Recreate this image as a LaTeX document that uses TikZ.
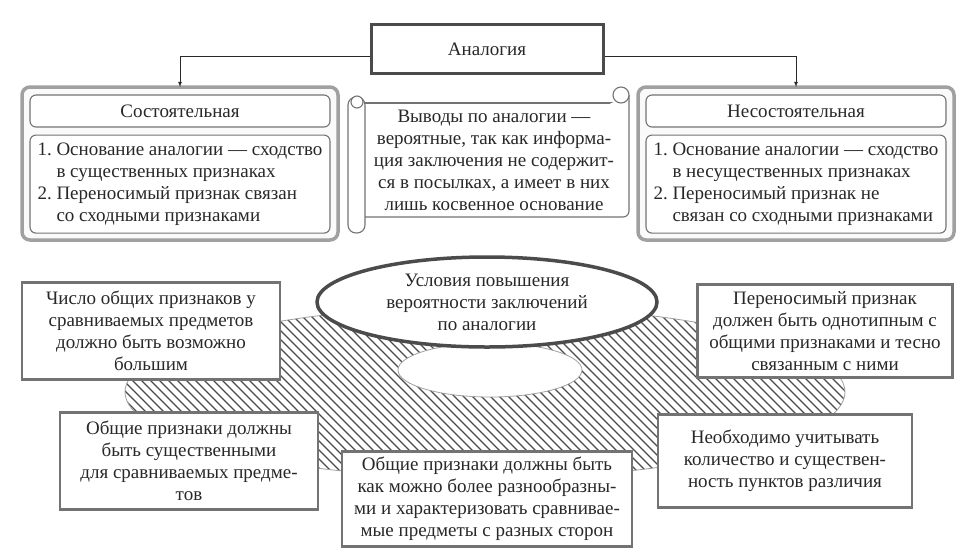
\documentclass[tikz,border=0pt]{standalone}
\usepackage{fontspec}
\setmainfont{Liberation Serif}
\usepackage{tikz}
\usetikzlibrary{positioning, shapes.geometric}

\definecolor{dark_gray}		{RGB}{75,75,75}
\definecolor{mid_gray}		{RGB}{115,115,115}
\definecolor{light_gray}	{RGB}{160,160,160}
\definecolor{text_gray}		{RGB}{40,40,40}

\begin{document}
\begin{tikzpicture}[x = 1pt, y = -1pt,
		font            = \fontsize{19}{22}\selectfont \color{text_gray},
		blockTop/.style = {draw = dark_gray,
			rectangle,
			align          = center,
			fill           = white,
			line width     = 3pt,
			minimum width  = 232pt,
			minimum height = 49pt},
		blockGroup/.style = {draw = light_gray,
			rounded corners = 8pt,
			fill           = gray!4,
			line width     = 3.5pt},
		blockTitle/.style = {draw = mid_gray,
			rectangle,
			rounded corners = 6pt,
			align          = center,
			fill           = white,
			line width     = 1.1pt,
			minimum width  = 300pt,
			minimum height = 32pt},
		blockList/.style = {draw = mid_gray,
			rectangle,
			rounded corners = 6pt,
			align          = left,
			fill           = white,
			line width     = 1.1pt,
			minimum width  = 300pt,
			minimum height = 98pt},
		blockCond/.style = {draw = mid_gray,
			rectangle,
			align          = center,
			fill           = white,
			line width     = 2.4pt,
			inner sep      = 2pt},
		blockOval/.style = {draw = dark_gray,
			ellipse,
			align          = center,
			fill           = white,
			line width     = 3.5pt,
			inner sep      = 0pt,
			minimum width  = 340pt,
			minimum height = 90pt},
		scroll/.style   = {draw = mid_gray,
			fill           = white,
			line width     = 1.1pt}]
	
	\useasboundingbox (0,0) rectangle (964,550);
	
	% hatched ring under the oval
	\begin{scope}[even odd rule]
		\clip (485,392) ellipse [x radius=360, y radius=86]
			(490,370) ellipse [x radius=92, y radius=27];
		\foreach \a in {-120,-111,...,870}
			\draw[dark_gray, line width=1.1pt] (\a,290) -- (\a+200,490);
	\end{scope}
	\draw[light_gray, line width=0.8pt] (485,392) ellipse [x radius=360, y radius=86];
	\draw[light_gray, line width=0.8pt] (490,370) ellipse [x radius=92, y radius=27];
	
	\node[blockTop] (Anal) at (487,49) {Аналогия};
	
	% two groups
	\draw[blockGroup] (22,87) rectangle (338,240);
	\draw[blockGroup] (638,87) rectangle (954,240);
	
	\node[blockTitle] (leftTitle) at (180,111) {Состоятельная};
	\node[blockList] (leftList) [below=7pt of leftTitle]
	{ 1.~Основание аналогии — сходство \\
		\hphantom{1.~}в существенных признаках \\
		2.~Переносимый признак связан \\
		\hphantom{2.~}со сходными признаками };
	
	\node[blockTitle] (rightTitle) at (796,111) {Несостоятельная};
	\node[blockList] (rightList) [below=7pt of rightTitle]
	{ 1.~Основание аналогии — сходство \\
		\hphantom{1.~}в несущественных признаках \\
		2.~Переносимый признак не \\
		\hphantom{2.~}связан со сходными признаками };
	
	% scroll
	\fill[white] (365,103) rectangle (629,217);
	\draw[scroll, rounded corners=6pt] (365,103) -- (621,103);
	\draw[scroll, rounded corners=6pt] (629,95) -- (629,217) -- (365,217);
	\draw[scroll] (621,95) circle (8);
	\draw[scroll, rounded corners=8pt] (348,97) rectangle (365,233);
	\draw[scroll] (357,102) circle (6);
	\node (Concl) at (494,160) [align=center]
	{ Выводы по аналогии — \\
		вероятные, так как информа- \\
		ция заключения не содержит- \\
		ся в посылках, а имеет в них \\
		лишь косвенное основание };
	
	\node[blockOval] (Cond) at (487,302)
	{ Условия повышения \\ вероятности заключений \\ по аналогии };
	
	\node[blockCond, minimum width=258pt, minimum height=97pt] (Number) at (151,331)
	{ Число общих признаков у \\ сравниваемых предметов \\ должно быть возможно \\ большим };
	\node[blockCond, minimum width=258pt, minimum height=97pt] (Essent) at (189,461)
	{ Общие признаки должны \\ быть существенными \\ для сравниваемых предме- \\ тов };
	\node[blockCond, minimum width=290pt, minimum height=95pt] (Varied) at (487,499)
	{ Общие признаки должны быть \\ как можно более разнообразны- \\ ми и характеризовать сравнивае- \\ мые предметы с разных сторон };
	\node[blockCond, minimum width=255pt, minimum height=93pt] (Transf) at (825,331)
	{ Переносимый признак \\ должен быть однотипным с \\ общими признаками и тесно \\ связанным с ними };
	\node[blockCond, minimum width=254pt, minimum height=93pt] (Diff) at (785,461)
	{ Необходимо учитывать \\ количество и существен- \\ ность пунктов различия };
	
	\path[-latex, line width=0.8pt, draw=text_gray] ([yshift=-7pt]Anal.west) -| (180,87);
	\path[-latex, line width=0.8pt, draw=text_gray] ([yshift=-7pt]Anal.east) -| (796,87);
	
\end{tikzpicture}
\end{document}
